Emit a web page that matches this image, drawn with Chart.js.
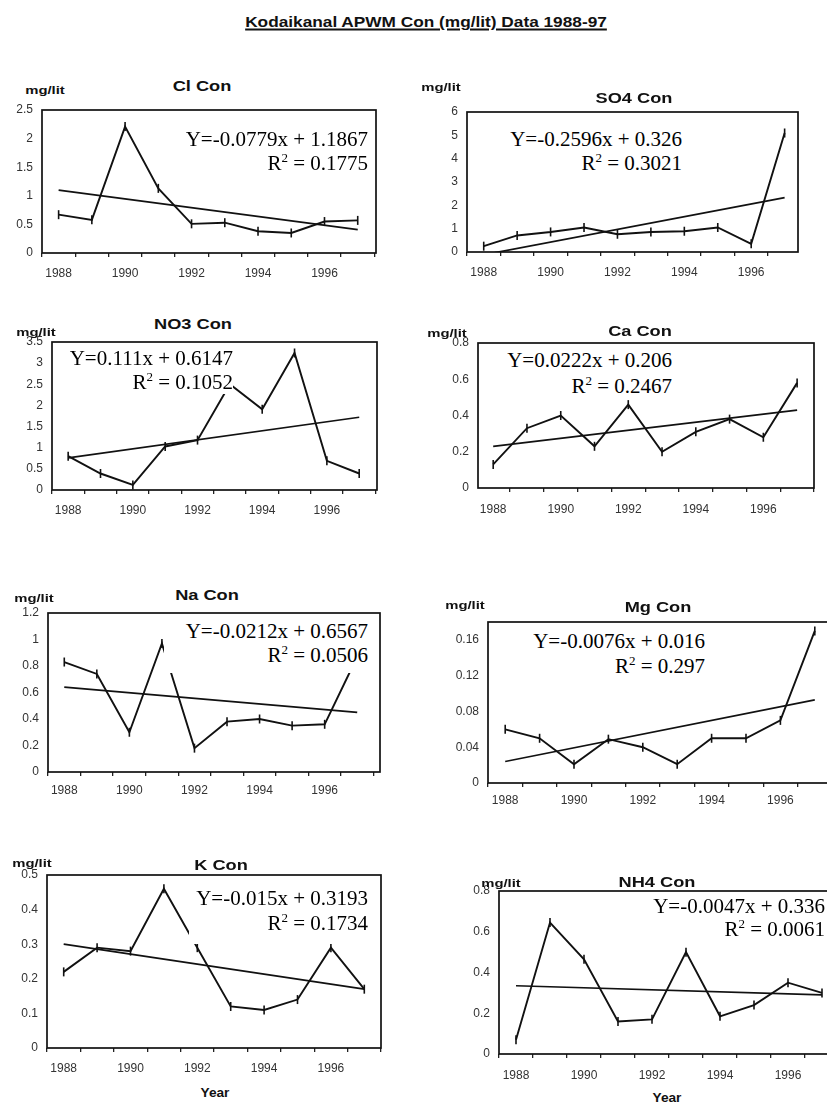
<!DOCTYPE html>
<html>
<head>
<meta charset="utf-8">
<script src="https://cdn.jsdelivr.net/npm/chart.js@4.4.1/dist/chart.umd.min.js"></script>
<style>
  html, body { margin: 0; padding: 0; background: #fff; overflow: hidden; }
  #page { position: relative; width: 827px; height: 1103px; overflow: hidden;
          font-family: "Liberation Sans", Arial, sans-serif; color: #111; }
  canvas { position: absolute; }
  .lbl { position: absolute; white-space: nowrap; font-weight: bold; line-height: 1; }
  .eq { position: absolute; white-space: nowrap; background: #fff; text-align: right;
        font-family: "Liberation Serif", "Times New Roman", serif; font-size: 21px; color: #000; }
  .eq sup { font-size: 13px; line-height: 0; vertical-align: 8px; }
</style>
</head>
<body>
<div id="page"></div>
<script>
// data
const years = [1988, 1989, 1990, 1991, 1992, 1993, 1994, 1995, 1996, 1997];
const xTickLabels = [1988, 1990, 1992, 1994, 1996];

const clCon  = [0.67, 0.58, 2.21, 1.13, 0.51, 0.53, 0.38, 0.35, 0.55, 0.57];
const so4Con = [0.25, 0.71, 0.86, 1.05, 0.76, 0.86, 0.89, 1.05, 0.35, 5.1];
const no3Con = [0.8, 0.39, 0.12, 1.03, 1.18, 2.5, 1.91, 3.24, 0.69, 0.39];
const caCon  = [0.13, 0.33, 0.40, 0.23, 0.46, 0.20, 0.31, 0.38, 0.28, 0.58];
const naCon  = [0.83, 0.74, 0.30, 0.97, 0.18, 0.38, 0.40, 0.35, 0.36, 0.87];
const mgCon  = [0.060, 0.050, 0.021, 0.049, 0.040, 0.021, 0.050, 0.050, 0.070, 0.170];
const kCon   = [0.22, 0.29, 0.28, 0.46, 0.29, 0.12, 0.11, 0.14, 0.29, 0.17];
const nh4Con = [0.07, 0.645, 0.465, 0.16, 0.17, 0.50, 0.185, 0.24, 0.35, 0.30];

// trend line ends (1988, 1997)
const clTrend  = [1.10, 0.41];
const so4Trend = [-0.12, 2.33];
const no3Trend = [0.76, 1.72];
const caTrend  = [0.23, 0.43];
const naTrend  = [0.64, 0.45];
const mgTrend  = [0.024, 0.093];
const kTrend   = [0.30, 0.17];
const nh4Trend = [0.335, 0.29];

const clTicks  = [0, 0.5, 1, 1.5, 2, 2.5];
const so4Ticks = [0, 1, 2, 3, 4, 5, 6];
const no3Ticks = [0, 0.5, 1, 1.5, 2, 2.5, 3, 3.5];
const caTicks  = [0, 0.2, 0.4, 0.6, 0.8];
const naTicks  = [0, 0.2, 0.4, 0.6, 0.8, 1, 1.2];
const mgTicks  = [0, 0.04, 0.08, 0.12, 0.16];
const kTicks   = [0, 0.1, 0.2, 0.3, 0.4, 0.5];
const nh4Ticks = [0, 0.2, 0.4, 0.6, 0.8];

const titles = ['Cl Con', 'SO4 Con', 'NO3 Con', 'Ca Con', 'Na Con', 'Mg Con', 'K Con', 'NH4 Con'];
const equations = ['Y=-0.0779x + 1.1867', 'Y=-0.2596x + 0.326', 'Y=0.111x + 0.6147', 'Y=0.0222x + 0.206',
                   'Y=-0.0212x + 0.6567', 'Y=-0.0076x + 0.016', 'Y=-0.015x + 0.3193', 'Y=-0.0047x + 0.336'];
const rSquared = ['0.1775', '0.3021', '0.1052', '0.2467', '0.0506', '0.297', '0.1734', '0.0061'];

// layout of each panel on the page
const panels = [
  { values: clCon,  trend: clTrend,  ticks: clTicks,  yMax: 2.5, L: 42,  T: 110, R: 376, B: 253, xMin: 1987.5,  xMax: 1997.55, xPad: 9,
    title: [202, 86],  unit: [45, 90],   eq: { right: 368, base: 146, gap: 24, padL: 0, padB: 0 } },
  { values: so4Con, trend: so4Trend, ticks: so4Ticks, yMax: 6,   L: 467, T: 112, R: 798, B: 252, xMin: 1987.5,  xMax: 1997.4,  xPad: 9,
    title: [634, 98],  unit: [441, 87],  eq: { right: 682, base: 146, gap: 24, padL: 0, padB: 0 } },
  { values: no3Con, trend: no3Trend, ticks: no3Ticks, yMax: 3.5, L: 52,  T: 342, R: 377, B: 490, xMin: 1987.5,  xMax: 1997.55, xPad: 9,
    title: [193, 324], unit: [36, 332],  eq: { right: 233, base: 365, gap: 24, padL: 0, padB: 0 } },
  { values: caCon,  trend: caTrend,  ticks: caTicks,  yMax: 0.8, L: 478, T: 343, R: 814, B: 488, xMin: 1987.55, xMax: 1997.5,  xPad: 10,
    title: [640, 331], unit: [447, 333], eq: { right: 672, base: 367, gap: 26, padL: 0, padB: 0 } },
  { values: naCon,  trend: naTrend,  ticks: naTicks,  yMax: 1.2, L: 48,  T: 613, R: 380, B: 772, xMin: 1987.5,  xMax: 1997.7,  xPad: 7,
    title: [207, 595], unit: [34, 598],  eq: { right: 368, base: 638, gap: 24, padL: 22, padB: 6 } },
  { values: mgCon,  trend: mgTrend,  ticks: mgTicks,  yMax: 0.18, L: 488, T: 622, R: 832, B: 783, xMin: 1987.5, xMax: 1997.5,  xPad: 6,
    title: [658, 607], unit: [465, 605], eq: { right: 705, base: 649, gap: 25, padL: 0, padB: 0 } },
  { values: kCon,   trend: kTrend,   ticks: kTicks,   yMax: 0.5, L: 47,  T: 875, R: 381, B: 1048, xMin: 1987.5, xMax: 1997.5,  xPad: 9,
    title: [221, 865], unit: [32, 863],  eq: { right: 368, base: 906, gap: 25, padL: 7, padB: 8 } },
  { values: nh4Con, trend: nh4Trend, ticks: nh4Ticks, yMax: 0.8, L: 499, T: 891, R: 839, B: 1054, xMin: 1987.5, xMax: 1997.5,  xPad: 10,
    title: [657, 882], unit: [501, 883], eq: { right: 825, base: 914, gap: 23, padL: 0, padB: 0 } }
];

const page = document.getElementById('page');

function addLabel(text, cx, cy, size, sx, extra) {
  const d = document.createElement('div');
  d.className = 'lbl';
  d.textContent = text;
  d.style.left = cx + 'px';
  d.style.top = cy + 'px';
  d.style.fontSize = size + 'px';
  d.style.transform = 'translate(-50%,-50%) scaleX(' + sx + ')';
  if (extra) Object.assign(d.style, extra);
  page.appendChild(d);
  return d;
}

addLabel('Kodaikanal APWM Con (mg/lit) Data 1988-97', 426, 21, 15, 1.15,
  { textDecoration: 'underline', textDecorationThickness: '1.5px', textUnderlineOffset: '2px' });
addLabel('Year', 215, 1092, 13, 1.05);
addLabel('Year', 667, 1097, 13, 1.05);

// box around the plot area, as in the Excel charts
const frame = {
  id: 'frame',
  afterDatasetsDraw(chart) {
    const a = chart.chartArea, c = chart.ctx;
    c.save();
    c.strokeStyle = '#111';
    c.lineWidth = 1.7;
    c.strokeRect(a.left, a.top, a.right - a.left, a.bottom - a.top);
    c.restore();
  }
};

function xTickValues(p) {
  const out = [];
  for (let v = 1987.5; v <= 1997.5; v += 0.5) {
    if (v < p.xMin - 1e-6 || v > p.xMax + 1e-6) continue;
    if (Number.isInteger(v) && !xTickLabels.includes(v)) continue;
    out.push(v);
  }
  return out;
}

panels.forEach(function (p, i) {
  const cv = document.createElement('canvas');
  cv.width = p.R - p.L + 60;
  cv.height = p.B - p.T + 45;
  cv.style.left = (p.L - 50) + 'px';
  cv.style.top = (p.T - 10) + 'px';
  page.appendChild(cv);

  new Chart(cv, {
    type: 'line',
    data: {
      datasets: [{
        data: years.map((y, k) => ({ x: y, y: p.values[k] })),
        borderColor: '#111',
        borderWidth: 1.9,
        tension: 0,
        pointStyle: 'line',
        rotation: 90,
        pointRadius: 4.5,
        pointBorderWidth: 1.6,
        pointBorderColor: '#111'
      }, {
        data: [{ x: years[0], y: p.trend[0] }, { x: years[years.length - 1], y: p.trend[1] }],
        borderColor: '#111',
        borderWidth: 1.7,
        pointRadius: 0
      }]
    },
    options: {
      responsive: false,
      animation: false,
      events: [],
      layout: { padding: { top: 10, right: 10, left: 0, bottom: 0 } },
      plugins: { legend: { display: false }, tooltip: { enabled: false } },
      scales: {
        x: {
          type: 'linear',
          min: p.xMin,
          max: p.xMax,
          afterFit: s => { s.height = 35; },
          afterBuildTicks: s => { s.ticks = xTickValues(p).map(v => ({ value: v })); },
          ticks: {
            autoSkip: false, maxRotation: 0, padding: p.xPad, color: '#333',
            font: { family: 'Liberation Sans', size: 12 },
            callback: v => xTickLabels.includes(v) ? String(v) : ''
          },
          grid: {
            drawOnChartArea: false, tickLength: 4, lineWidth: 1.3,
            tickColor: c => Number.isInteger(c.tick.value) ? 'rgba(0,0,0,0)' : '#222'
          },
          border: { display: false }
        },
        y: {
          min: 0,
          max: p.yMax,
          afterFit: s => { s.width = 50; s.paddingTop = 0; s.paddingBottom = 0; },
          afterBuildTicks: s => { s.ticks = p.ticks.map(v => ({ value: v })); },
          ticks: {
            padding: 9, color: '#333',
            font: { family: 'Liberation Sans', size: 12 },
            callback: v => String(v)
          },
          grid: { display: false, drawTicks: false },
          border: { display: false }
        }
      }
    },
    plugins: [frame]
  });

  addLabel(titles[i], p.title[0], p.title[1], 14, 1.3);
  addLabel('mg/lit', p.unit[0], p.unit[1], 11, 1.35);

  // equation text box (white, like the pasted box in the scan); keep the frame's top line visible
  const e = p.eq;
  const box = document.createElement('div');
  box.className = 'eq';
  box.style.lineHeight = e.gap + 'px';
  const top = e.base - ((e.gap - 21 * 1.107) / 2 + 21 * 0.891);
  box.style.top = top + 'px';
  box.style.right = (827 - e.right) + 'px';
  box.style.paddingLeft = e.padL + 'px';
  box.style.paddingBottom = e.padB + 'px';
  const cut = Math.max(0, p.T + 1.5 - top);
  box.style.clipPath = 'inset(' + cut + 'px 0 0 0)';
  box.innerHTML = equations[i] + '<br>R<sup>2</sup> = ' + rSquared[i];
  page.appendChild(box);
});
</script>
</body>
</html>
